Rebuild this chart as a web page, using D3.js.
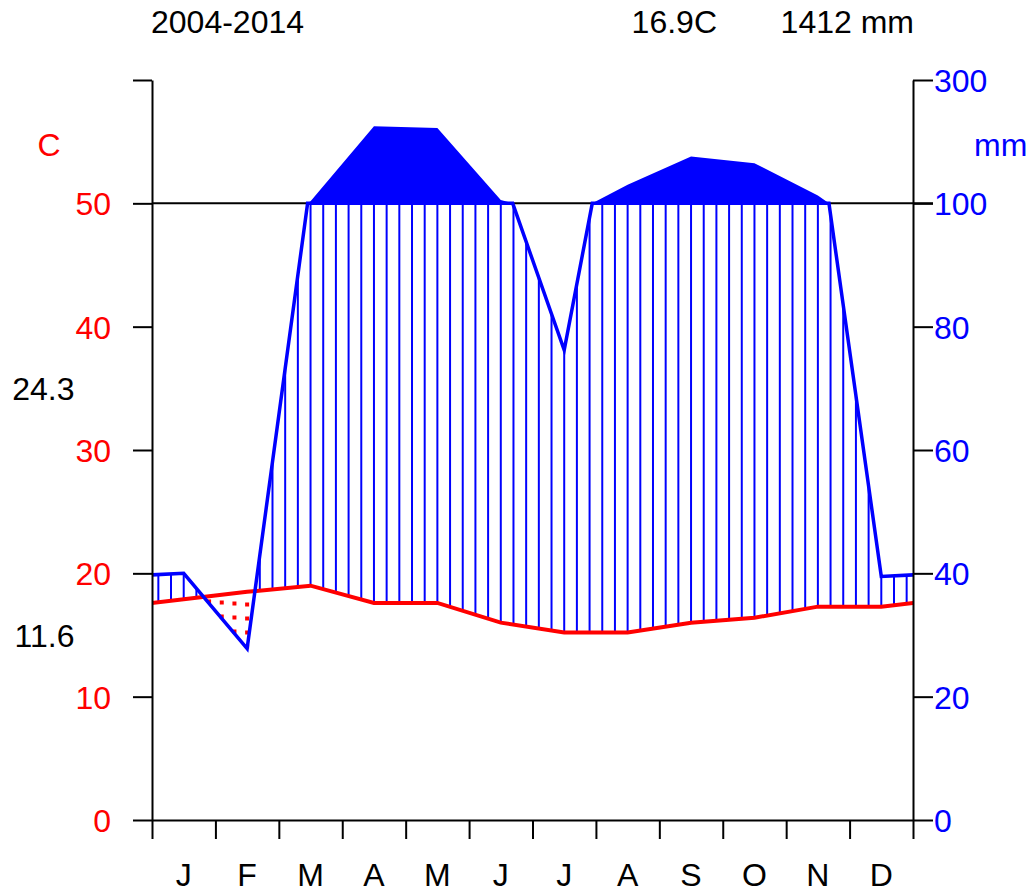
<!DOCTYPE html>
<html><head><meta charset="utf-8">
<script src="https://cdn.jsdelivr.net/npm/d3@7"></script>
<style>body{margin:0;background:#fff} text{font-family:"Liberation Sans",Arial,sans-serif}</style>
</head><body><svg id="c" width="1030" height="894"></svg>
<script>
const months = ["J","F","M","A","M","J","J","A","S","O","N","D"];
const precip = [40, 27.8, 103.5, 225, 222, 105.5, 76.2, 130, 176, 165, 112.8, 39.5];
const temp = [17.9, 18.5, 19.0, 17.6, 17.6, 16.0, 15.2, 15.2, 16.0, 16.4, 17.3, 17.3];
const tempTicks = [0, 10, 20, 30, 40, 50, 60];
const precipTicks = [0, 20, 40, 60, 80, 100, 300];
const period = "2004-2014";
const meanTempLabel = "16.9C";
const totalPrecipLabel = "1412 mm";
const maxTempLabel = "24.3";
const minTempLabel = "11.6";

const svg = d3.select("#c");
const x = d3.scaleLinear([0, 12], [152, 913]);
const y = d3.scaleLinear([0, 60], [820, 80]);
const yP = d3.scaleLinear([0, 100, 300], [y(0), y(50), y(60)]);

svg.append("defs").append("clipPath").attr("id", "plot")
  .append("rect").attr("x", x(0)).attr("y", 0).attr("width", x(12) - x(0)).attr("height", 894);

// extended monthly series (Dec before Jan, Jan after Dec)
const xs = [-0.5, ...months.map((m, i) => i + 0.5), 12.5];
const ps = [precip[11], ...precip, precip[0]];
const ts = [temp[11], ...temp, temp[0]];
function interp(arr, xm) {
  const i = Math.min(Math.floor(xm + 0.5), arr.length - 2);
  const f = xm - xs[i];
  return arr[i] + (arr[i + 1] - arr[i]) * f;
}

// capped and over-100 point lists
const capPts = [], overPts = [];
for (let i = 0; i < xs.length; i++) {
  capPts.push([xs[i], Math.min(ps[i], 100)]);
  overPts.push([xs[i], Math.max(ps[i], 100)]);
  if (i < xs.length - 1 && (ps[i] - 100) * (ps[i + 1] - 100) < 0) {
    const xc = xs[i] + (100 - ps[i]) / (ps[i + 1] - ps[i]);
    capPts.push([xc, 100]);
    overPts.push([xc, 100]);
  }
}

// 100 mm reference line
svg.append("line").attr("x1", x(0)).attr("x2", x(12) + 20)
  .attr("y1", y(50)).attr("y2", y(50)).attr("stroke", "#000").attr("stroke-width", 2);

const g = svg.append("g").attr("clip-path", "url(#plot)");

// hatching
for (let k = 0; k < 60; k++) {
  const xm = 0.1 + 0.2 * k;
  const p = interp(ps, xm), t = interp(ts, xm);
  const pc = Math.min(p, 100);
  if (yP(pc) < y(t)) {
    g.append("line").attr("x1", x(xm)).attr("x2", x(xm))
      .attr("y1", y(t)).attr("y2", yP(pc))
      .attr("stroke", "#0000ff").attr("stroke-width", 2);
  } else {
    g.append("line").attr("x1", x(xm)).attr("x2", x(xm))
      .attr("y1", yP(p)).attr("y2", y(t))
      .attr("stroke", "#ff0000").attr("stroke-width", 4)
      .attr("stroke-dasharray", "4,10");
  }
}

// wet area above 100 mm
g.append("path").datum(overPts)
  .attr("d", d3.area().x(d => x(d[0])).y0(yP(100)).y1(d => yP(d[1])))
  .attr("fill", "#0000ff").attr("stroke", "none");

// temperature line
g.append("path").datum(xs.map((v, i) => [v, ts[i]]))
  .attr("d", d3.line().x(d => x(d[0])).y(d => y(d[1])))
  .attr("fill", "none").attr("stroke", "#ff0000").attr("stroke-width", 4);

// precipitation line (capped at 100)
g.append("path").datum(capPts)
  .attr("d", d3.line().x(d => x(d[0])).y(d => yP(d[1])))
  .attr("fill", "none").attr("stroke", "#0000ff").attr("stroke-width", 3.5);

// left axis
const la = svg.append("g").attr("transform", `translate(${x(0)},0)`)
  .call(d3.axisLeft(y).tickValues(tempTicks).tickSize(19).tickSizeOuter(0)
    .tickPadding(22).tickFormat(d => d === 60 ? "" : d));
la.select(".domain").attr("stroke", "#000").attr("stroke-width", 2);
la.selectAll(".tick line").attr("stroke", "#000").attr("stroke-width", 2);
la.selectAll(".tick text").attr("fill", "#ff0000").attr("font-size", 32)
  .attr("font-family", "Liberation Sans, Arial, sans-serif").attr("dy", "0.36em");

// right axis
const ra = svg.append("g").attr("transform", `translate(${x(12)},0)`)
  .call(d3.axisRight(yP).tickValues(precipTicks).tickSize(20).tickSizeOuter(0)
    .tickPadding(1).tickFormat(d => d));
ra.select(".domain").attr("stroke", "#000").attr("stroke-width", 2);
ra.selectAll(".tick line").attr("stroke", "#000").attr("stroke-width", 2);
ra.selectAll(".tick text").attr("fill", "#0000ff").attr("font-size", 32)
  .attr("font-family", "Liberation Sans, Arial, sans-serif").attr("dy", "0.36em");

// bottom axis
const ba = svg.append("g").attr("transform", `translate(0,${y(0)})`)
  .call(d3.axisBottom(x).tickValues(d3.range(0, 13)).tickSize(19).tickSizeOuter(0).tickFormat(""));
ba.select(".domain").attr("stroke", "#000").attr("stroke-width", 2);
ba.selectAll(".tick line").attr("stroke", "#000").attr("stroke-width", 2);

// month labels
svg.selectAll("text.month").data(months).enter().append("text")
  .attr("class", "month").attr("x", (d, i) => x(i + 0.5)).attr("y", 886)
  .attr("text-anchor", "middle").attr("font-size", 32).attr("fill", "#000").text(d => d);

// header & side labels
const T = (txt, tx, ty, anchor, color, size) => svg.append("text").attr("x", tx).attr("y", ty)
  .attr("text-anchor", anchor).attr("fill", color).attr("font-size", size).text(txt);
T(period, 151, 33, "start", "#000", 32);
T(meanTempLabel, 717, 33, "end", "#000", 32);
T(totalPrecipLabel, 914, 33, "end", "#000", 32);
T("C", 49, 156, "middle", "#ff0000", 32);
T("mm", 974, 156, "start", "#0000ff", 32);
T(maxTempLabel, 74.5, y(35) + 11.5, "end", "#000", 32);
T(minTempLabel, 74.5, y(15) + 11.5, "end", "#000", 32);
</script></body></html>
